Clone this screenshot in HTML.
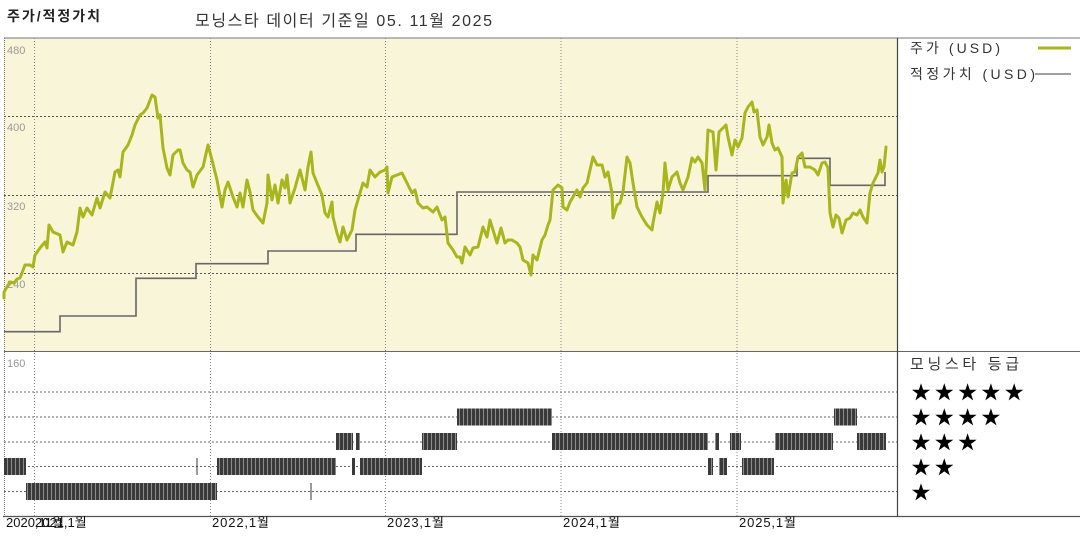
<!DOCTYPE html>
<html><head><meta charset="utf-8">
<style>
html,body{margin:0;padding:0;background:#fff;}
svg{display:block;}
text{font-family:"Liberation Sans","Noto Sans CJK KR",sans-serif;}
</style></head>
<body>
<svg width="1080" height="540" viewBox="0 0 1080 540" xmlns="http://www.w3.org/2000/svg">
<defs>
<pattern id="bar" width="4" height="20" patternUnits="userSpaceOnUse">
<rect width="4" height="20" fill="#3a3a3a"/>
<rect x="3" width="1" height="20" fill="#8c8c8c"/>
</pattern>
<polygon id="st" points="0,-9.5 2.134,-2.937 9.035,-2.936 3.452,1.122 5.584,7.686 0,3.63 -5.584,7.686 -3.452,1.122 -9.035,-2.936 -2.134,-2.937" fill="#000"/>
</defs>

<!-- titles -->
<text x="7" y="21" font-size="14" font-weight="bold" fill="#222" textLength="93" lengthAdjust="spacing">주가/적정가치</text>
<text x="195" y="26" font-size="16" fill="#333" textLength="297" lengthAdjust="spacing">모닝스타 데이터 기준일 05. 11월 2025</text>

<!-- top plot background -->
<rect x="4" y="38" width="893" height="313" fill="#f9f5d8"/>

<!-- frame lines -->
<line x1="4" y1="38" x2="1080" y2="38" stroke="#777" stroke-width="1"/>
<line x1="4" y1="351.5" x2="1080" y2="351.5" stroke="#666" stroke-width="1"/>
<line x1="3" y1="516.5" x2="1080" y2="516.5" stroke="#555" stroke-width="1.2"/>
<line x1="897.5" y1="38" x2="897.5" y2="517" stroke="#444" stroke-width="1.2"/>
<line x1="4.5" y1="38" x2="4.5" y2="516" stroke="#777" stroke-width="1" stroke-dasharray="1,1"/>

<!-- horizontal gridlines top -->
<g stroke="#555" stroke-width="1" stroke-dasharray="2,2">
<line x1="4" y1="116.5" x2="897" y2="116.5"/>
<line x1="4" y1="195.5" x2="897" y2="195.5"/>
<line x1="4" y1="273.5" x2="897" y2="273.5"/>
</g>
<!-- horizontal gridlines bottom -->
<g stroke="#666" stroke-width="1" stroke-dasharray="2,2">
<line x1="4" y1="392" x2="897" y2="392"/>
<line x1="4" y1="417" x2="897" y2="417"/>
<line x1="4" y1="442" x2="897" y2="442"/>
<line x1="4" y1="466.5" x2="897" y2="466.5"/>
<line x1="4" y1="491.5" x2="897" y2="491.5"/>
</g>
<!-- vertical gridlines -->
<g stroke="#888" stroke-width="1" stroke-dasharray="1,2">
<line x1="34.5" y1="38" x2="34.5" y2="516"/>
<line x1="210.5" y1="38" x2="210.5" y2="516"/>
<line x1="385.5" y1="38" x2="385.5" y2="516"/>
<line x1="561" y1="38" x2="561" y2="516"/>
<line x1="737" y1="38" x2="737" y2="516"/>
</g>

<!-- y labels -->
<g font-size="11" fill="#999">
<text x="7" y="54">480</text>
<text x="7" y="131">400</text>
<text x="7" y="210">320</text>
<text x="7" y="288">240</text>
<text x="7" y="367">160</text>
</g>

<!-- fair value step -->
<path d="M4,331.7 H60 V316 H136 V278.3 H196 V263.7 H268 V251 H356 V234.3 H457 V192 H708 V175.7 H797 V158.3 H830 V185.3 H885 V172" fill="none" stroke="#666" stroke-width="1.6"/>

<!-- price line -->
<polyline fill="none" stroke="#a9b51d" stroke-width="3" stroke-linejoin="round" stroke-linecap="round" points="4,298 4,292 7,287 10,282 14,283 17,279 20,278 25,265 30,265 33,267 35,255 40,248 45,242 47,248 49,225 53,232 60,235 63,252 67,242 73,245 77,232 80,208 83,217 87,208 92,215 97,198 100,208 105,192 110,198 115,172 118,170 120,177 123,152 128,145 132,135 135,125 140,115 143,113 147,108 152,95 155,97 158,118 160,115 163,148 167,168 170,175 173,155 178,150 180,150 183,163 187,170 190,172 193,187 197,175 203,167 208,145 212,160 217,180 222,207 225,190 228,182 233,197 237,207 240,193 243,207 247,180 250,192 253,210 258,217 263,223 267,203 268,175 272,200 275,185 278,203 282,180 285,188 287,175 290,203 295,188 300,170 305,190 308,167 311,152 313,173 317,183 322,195 325,213 328,217 332,202 333,217 337,233 340,242 343,227 347,240 352,230 355,210 360,193 363,183 367,187 370,170 375,177 380,172 385,170 387,167 388,193 392,177 397,175 402,173 407,183 412,193 415,190 418,203 423,208 427,207 433,212 437,207 442,220 445,217 448,243 453,250 457,257 460,257 462,263 465,247 470,255 473,248 478,247 483,227 487,237 490,220 493,230 497,243 501,228 505,243 508,240 512,240 517,243 520,247 523,260 528,263 531,275 533,255 537,260 542,240 545,235 548,225 550,220 553,190 558,185 562,188 563,207 567,210 570,202 573,197 577,190 580,197 583,188 587,183 590,170 593,157 597,165 602,165 605,177 608,172 612,193 613,218 617,205 620,203 623,192 627,157 630,163 633,183 637,207 642,217 647,225 652,230 653,223 657,202 660,213 663,193 665,163 668,190 672,177 677,172 680,183 683,190 688,177 692,158 695,162 698,157 702,163 705,190 708,130 713,132 716,170 719,132 723,128 726,125 728,137 732,155 735,140 738,147 742,138 745,113 748,107 752,102 754,112 757,110 760,137 763,145 767,137 769,125 772,143 775,150 778,148 782,157 783,203 786,180 788,197 792,173 795,172 798,157 802,153 805,167 810,167 815,170 818,175 822,163 825,162 828,168 830,213 833,227 836,215 839,218 842,233 846,220 850,218 853,213 857,215 860,210 863,217 867,223 870,193 873,183 878,173 880,160 882,172 884,167 886,147"/>

<!-- rating bars -->
<g fill="url(#bar)">
<!-- 4 star -->
<rect x="457" y="408.5" width="95" height="17"/>
<rect x="834" y="408.5" width="23" height="17"/>
<!-- 3 star -->
<rect x="336" y="433" width="17" height="17"/>
<rect x="356" y="433" width="4" height="17"/>
<rect x="422" y="433" width="35" height="17"/>
<rect x="552" y="433" width="156" height="17"/>
<rect x="715" y="433" width="4" height="17"/>
<rect x="730" y="433" width="11" height="17"/>
<rect x="775" y="433" width="58" height="17"/>
<rect x="857" y="433" width="29" height="17"/>
<!-- 2 star -->
<rect x="4" y="458" width="22" height="17"/>
<rect x="217" y="458" width="119" height="17"/>
<rect x="352" y="458" width="3" height="17"/>
<rect x="360" y="458" width="62" height="17"/>
<rect x="708" y="458" width="5" height="17"/>
<rect x="719" y="458" width="8" height="17"/>
<rect x="742" y="458" width="32" height="17"/>
<!-- 1 star -->
<rect x="26" y="483" width="191" height="17"/>
</g>
<line x1="197" y1="458" x2="197" y2="475" stroke="#333" stroke-width="1"/>
<line x1="311" y1="483" x2="311" y2="500" stroke="#333" stroke-width="1"/>

<!-- x labels -->
<g font-size="13" fill="#111">
<text x="6" y="527">2020,11월</text>
<text x="35" y="527">2021,1월</text>
<text x="212" y="527" textLength="57" lengthAdjust="spacing">2022,1월</text>
<text x="387" y="527" textLength="57" lengthAdjust="spacing">2023,1월</text>
<text x="563" y="527" textLength="57" lengthAdjust="spacing">2024,1월</text>
<text x="739" y="527" textLength="57" lengthAdjust="spacing">2025,1월</text>
</g>

<!-- legend -->
<text x="910" y="53" font-size="14" fill="#333" textLength="90" lengthAdjust="spacing">주가 (USD)</text>
<line x1="1038" y1="48" x2="1071" y2="48" stroke="#a9b51d" stroke-width="3"/>
<text x="910" y="79" font-size="14" fill="#333" textLength="125" lengthAdjust="spacing">적정가치 (USD)</text>
<line x1="1035" y1="74" x2="1071" y2="74" stroke="#666" stroke-width="1.3"/>

<text x="910" y="369" font-size="15" fill="#333" textLength="109" lengthAdjust="spacing">모닝스타 등급</text>
<g>
<use href="#st" x="921" y="392.7"/><use href="#st" x="944.3" y="392.7"/><use href="#st" x="967.6" y="392.7"/><use href="#st" x="990.9" y="392.7"/><use href="#st" x="1014.2" y="392.7"/>
<use href="#st" x="921" y="417.7"/><use href="#st" x="944.3" y="417.7"/><use href="#st" x="967.6" y="417.7"/><use href="#st" x="990.9" y="417.7"/>
<use href="#st" x="921" y="442.7"/><use href="#st" x="944.3" y="442.7"/><use href="#st" x="967.6" y="442.7"/>
<use href="#st" x="921" y="467.7"/><use href="#st" x="944.3" y="467.7"/>
<use href="#st" x="921" y="492.7"/>
</g>
</svg>
</body></html>
